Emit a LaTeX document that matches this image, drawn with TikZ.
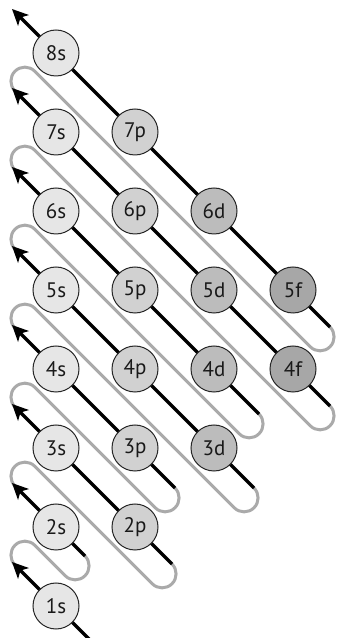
\documentclass[tikz,border=0pt]{standalone}
\usepackage{fontspec}
\setmainfont{PT Sans}
\usetikzlibrary{arrows.meta,calc}
\definecolor{sfill}{HTML}{E6E6E6}
\definecolor{pfill}{HTML}{D1D1D1}
\definecolor{dfill}{HTML}{BCBCBC}
\definecolor{ffill}{HTML}{A7A7A7}
\definecolor{loopgray}{HTML}{AAAAAA}
\begin{document}
\begin{tikzpicture}[x=1pt,y=1pt,
  orb/.style={circle,draw=black!85,line width=1pt,minimum size=46pt,inner sep=0pt,
    font=\fontsize{21}{21}\selectfont,text=black!90},
  sorb/.style={orb,fill=sfill},
  porb/.style={orb,fill=pfill},
  dorb/.style={orb,fill=dfill},
  forb/.style={orb,fill=ffill},
  diag/.style={line width=3.2pt,black,-{Stealth[length=16pt,width=15pt,inset=4pt]}},
  loop/.style={line width=3pt,loopgray},
]
\useasboundingbox (0,0) rectangle (338,638);
\def\rr{13.97}
% coordinates: arrow tips, loop starts, line ends
\foreach \k/\y in {1/32,2/111,3/190,4/269,5/348,6/427,7/506,8/585}{
  \coordinate (T\k) at (12,\y+44);
  \coordinate (A\k) at (15,\y+41);
}
\coordinate (E1) at (98,-10);
\coordinate (E2) at (85,82);
\coordinate (E3) at (172,74);
\coordinate (E4) at (175,150);
\coordinate (E5) at (254,150);
\coordinate (E6) at (259,224);
\coordinate (E7) at (330,232);
\coordinate (E8) at (330,311);
% gray loops
\foreach \k [evaluate=\k as \kn using int(\k+1)] in {1,...,7}{
  \draw[loop] (A\k) arc[start angle=225,end angle=45,radius=\rr]
    -- ($(E\kn)+(-19.76,-19.76)$) arc[start angle=225,end angle=405,radius=\rr];
}
% black diagonals
\foreach \k in {1,...,8}{
  \draw[diag] (E\k) -- (T\k);
}
% orbitals
\node[sorb] (o1s) at (56,32) {1s};
\node[sorb] (o2s) at (56,111) {2s};
\node[porb] (o2p) at (135,111) {2p};
\node[sorb] (o3s) at (56,190) {3s};
\node[porb] (o3p) at (135,190) {3p};
\node[dorb] (o3d) at (214,190) {3d};
\node[sorb] (o4s) at (56,269) {4s};
\node[porb] (o4p) at (135,269) {4p};
\node[dorb] (o4d) at (214,269) {4d};
\node[forb] (o4f) at (293,269) {4f};
\node[sorb] (o5s) at (56,348) {5s};
\node[porb] (o5p) at (135,348) {5p};
\node[dorb] (o5d) at (214,348) {5d};
\node[forb] (o5f) at (293,348) {5f};
\node[sorb] (o6s) at (56,427) {6s};
\node[porb] (o6p) at (135,427) {6p};
\node[dorb] (o6d) at (214,427) {6d};
\node[sorb] (o7s) at (56,506) {7s};
\node[porb] (o7p) at (135,506) {7p};
\node[sorb] (o8s) at (56,585) {8s};
\end{tikzpicture}
\end{document}
